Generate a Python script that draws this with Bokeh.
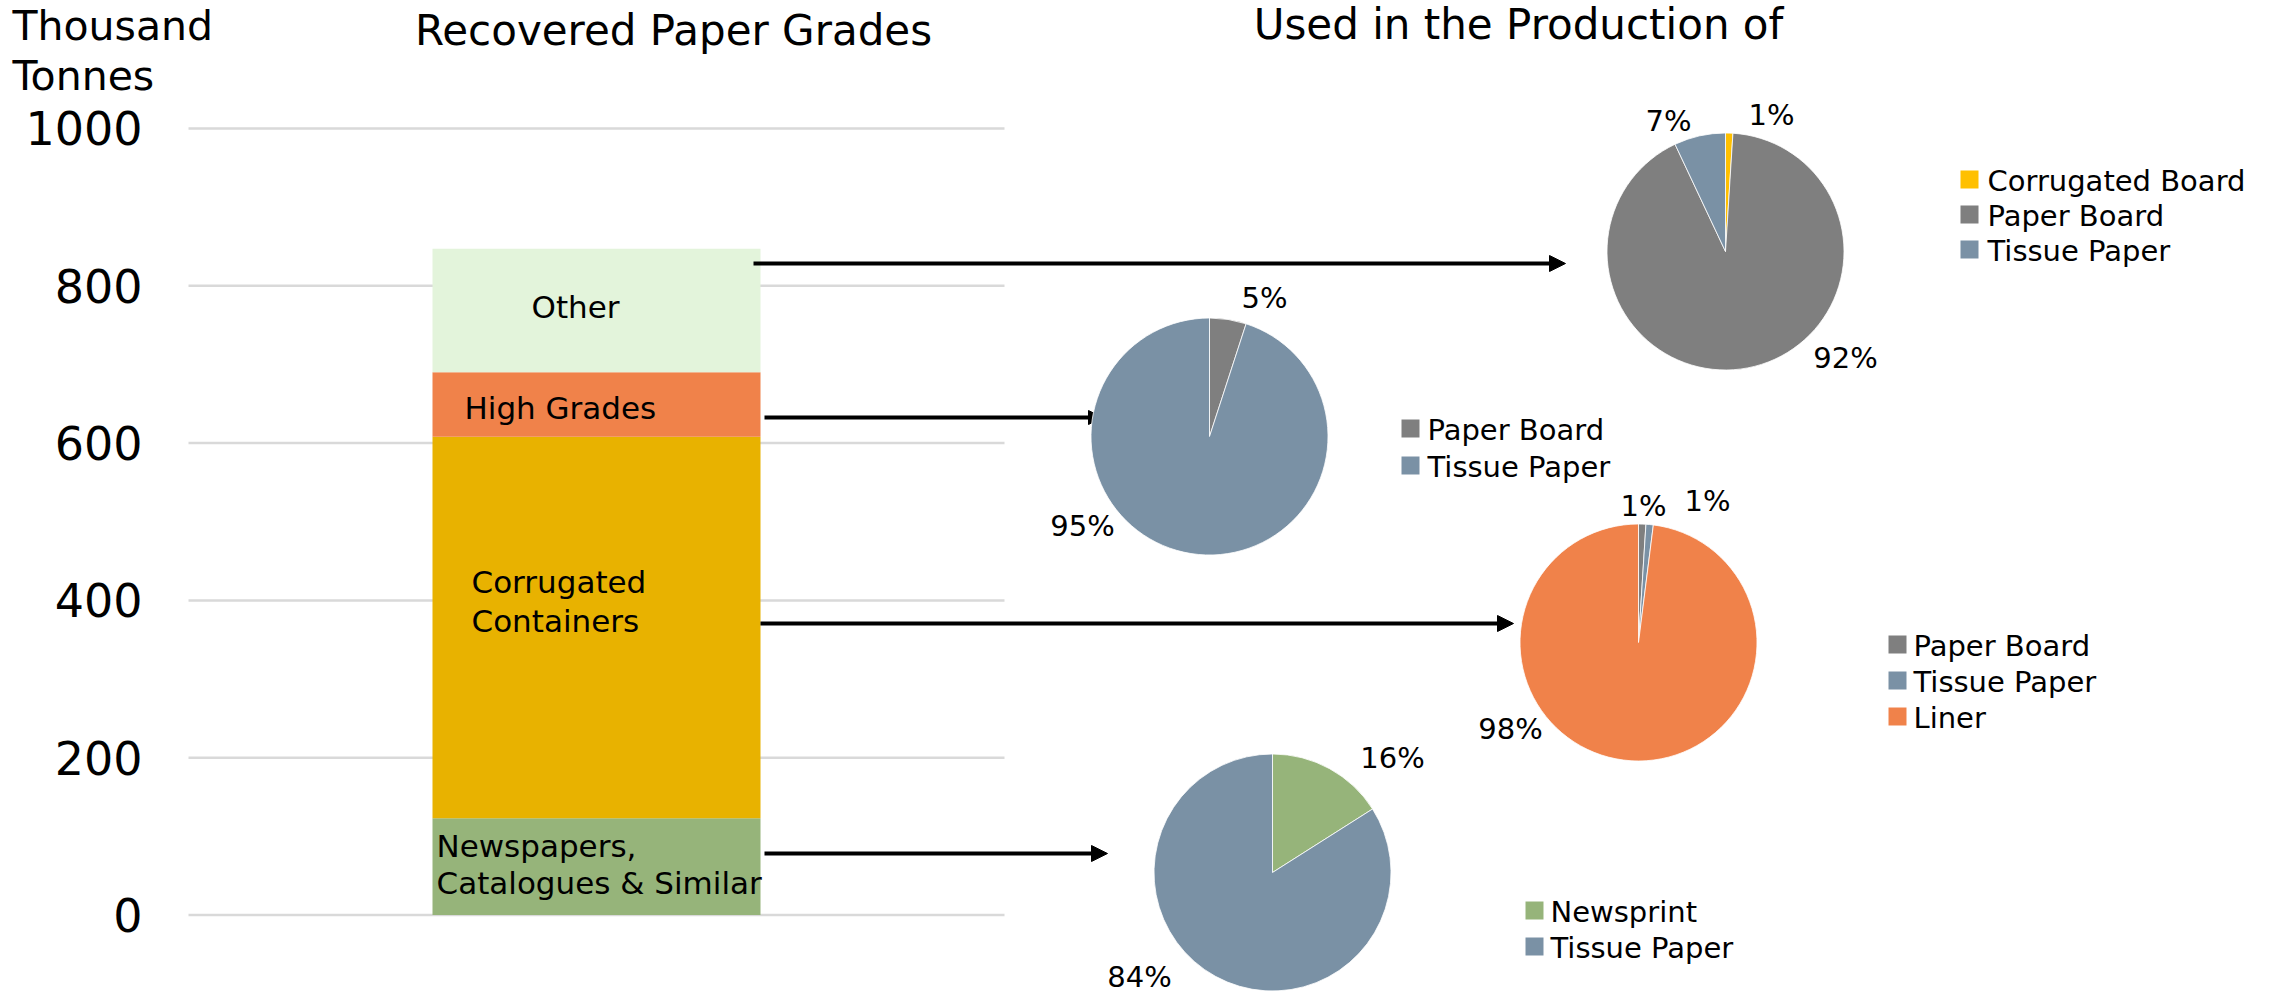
import numpy as np
from bokeh.plotting import figure
from bokeh.models import Range1d, FixedTicker, Arrow, NormalHead, Label, ColumnDataSource
from bokeh.core.properties import value
from bokeh.embed import file_html
from bokeh.resources import INLINE

# ---------------- data ----------------
grade_names = ["Newspapers, Catalogues & Similar", "Corrugated Containers", "High Grades", "Other"]
grade_values = [123, 485, 82, 157]          # thousand tonnes, stacked bottom -> top
grade_colors = ["#96B47A", "#E8B200", "#F0824A", "#E3F4DB"]
y_ticks = [0, 200, 400, 600, 800, 1000]

other_labels = ["Corrugated Board", "Paper Board", "Tissue Paper"]
other_values = [1, 92, 7]
other_colors = ["#FFC000", "#7F7F7F", "#7A91A5"]

high_labels = ["Paper Board", "Tissue Paper"]
high_values = [5, 95]
high_colors = ["#7F7F7F", "#7A91A5"]

corr_labels = ["Paper Board", "Tissue Paper", "Liner"]
corr_values = [1, 1, 98]
corr_colors = ["#7F7F7F", "#7A91A5", "#F0824A"]

news_labels = ["Newsprint", "Tissue Paper"]
news_values = [16, 84]
news_colors = ["#96B47A", "#7A91A5"]

FONT = "DejaVu Sans"

# ---------------- figure ----------------
p = figure(width=2272, height=993, output_backend="svg", toolbar_location=None,
           x_range=Range1d(0, 2272), y_range=Range1d(-99.8, 1162.7),
           x_axis_location=None, y_axis_location="left",
           min_border_left=0, min_border_right=0, min_border_top=0, min_border_bottom=0,
           outline_line_color=None, background_fill_color="white", border_fill_color="white")
p.extra_y_ranges = {"px": Range1d(993, 0)}
p.grid.visible = False

ax = p.yaxis[0]
ax.fixed_location = 188
ax.ticker = FixedTicker(ticks=y_ticks)
ax.axis_line_color = None
ax.major_tick_line_color = None
ax.minor_tick_line_color = None
ax.major_tick_out = 0
ax.major_tick_in = 0
ax.major_label_standoff = 46
ax.major_label_text_font = FONT
ax.major_label_text_font_size = "46px"
ax.major_label_text_color = "black"

# grid lines only under the bar area
p.segment(x0=188, x1=1004, y0=y_ticks, y1=y_ticks, line_color="#D9D9D9", line_width=2.5)

# stacked bar
tops = np.cumsum(grade_values)
bottoms = tops - np.array(grade_values)
bar_src = ColumnDataSource(dict(x=[596] * len(grade_values), bottom=bottoms, top=tops, color=grade_colors))
p.vbar(x="x", width=328, bottom="bottom", top="top", fill_color="color", line_color=None, source=bar_src)

# bar labels (layout only)
bar_text = dict(
    x=[575, 464, 471, 471, 436, 436],
    y=[306, 407, 581, 620, 845, 882],
    t=["Other", "High Grades", "Corrugated", "Containers", "Newspapers,", "Catalogues & Similar"],
    align=["center", "left", "left", "left", "left", "left"],
)
p.text(x="x", y="y", text="t", text_align="align", source=ColumnDataSource(bar_text),
       text_font=value(FONT), text_font_size="31px", text_color="black",
       text_baseline="middle", y_range_name="px")

# arrows (connector lines)
arrow_layout = [
    (753, 263, 1565, 16, "annotation"),
    (764, 417, 1102, 14, "underlay"),
    (760, 623, 1513, 16, "annotation"),
    (764, 853, 1107, 16, "annotation"),
]
for xs, yy, xe, hs, lvl in arrow_layout:
    p.add_layout(Arrow(x_start=xs, y_start=yy, x_end=xe, y_end=yy, y_range_name="px",
                       line_width=4, line_color="black", level=lvl,
                       end=NormalHead(size=hs, fill_color="black", line_color="black", line_width=1)))

def pie(values, colors, labels, cx, cy, r, label_pos, legend_x, legend_y0, legend_step, text_dx):
    vals = np.array(values, dtype=float)
    frac = vals / vals.sum()
    cum = np.concatenate([[0.0], np.cumsum(frac)])
    start = np.pi / 2 - 2 * np.pi * cum[1:]
    end = np.pi / 2 - 2 * np.pi * cum[:-1]
    src = ColumnDataSource(dict(x=[cx] * len(vals), y=[cy] * len(vals), s=start, e=end, c=colors))
    p.wedge(x="x", y="y", radius=r, start_angle="s", end_angle="e", fill_color="c",
            line_color="white", line_width=0.8, source=src, y_range_name="px")
    # percent labels
    lsrc = ColumnDataSource(dict(x=[lp[0] for lp in label_pos], y=[lp[1] for lp in label_pos],
                                 t=[f"{v:g}%" for v in values]))
    p.text(x="x", y="y", text="t", source=lsrc, text_font=value(FONT), text_font_size="29px",
           text_color="black", text_align="center", text_baseline="middle", y_range_name="px")
    # legend
    ly = [legend_y0 + i * legend_step for i in range(len(labels))]
    p.scatter(x=[legend_x + 9] * len(labels), y=ly, marker="square", size=18,
              fill_color=colors, line_color=None, y_range_name="px")
    p.text(x=[legend_x + text_dx] * len(labels), y=[v + 1 for v in ly], text=labels,
           text_font=value(FONT), text_font_size="29px", text_color="black",
           text_align="left", text_baseline="middle", y_range_name="px")

pie(other_values, other_colors, other_labels, 1725, 251, 118.5,
    [(1771, 114), (1845, 357), (1668, 120)], 1960, 179, 35, 27)
pie(high_values, high_colors, high_labels, 1209, 436, 118.5,
    [(1264, 297), (1082, 525)], 1401, 428, 37, 26)
pie(corr_values, corr_colors, corr_labels, 1638, 642, 118.5,
    [(1643, 505), (1707, 500), (1510, 728)], 1888, 644, 36, 25)
pie(news_values, news_colors, news_labels, 1272, 872, 118.5,
    [(1392, 757), (1139, 976)], 1525, 910, 36, 25)

# titles
for txt, x, y, align, fs in [("Thousand", 12, 25, "left", "41px"), ("Tonnes", 12, 75, "left", "41px"),
                             ("Recovered Paper Grades", 673, 30, "center", "42px"),
                             ("Used in the Production of", 1518, 24, "center", "42px")]:
    p.add_layout(Label(x=x, y=y, y_range_name="px", text=txt, text_font=FONT,
                       text_font_size=fs, text_color="black", text_align=align,
                       text_baseline="middle"))

open("out.html", "w").write(file_html(p, INLINE))
